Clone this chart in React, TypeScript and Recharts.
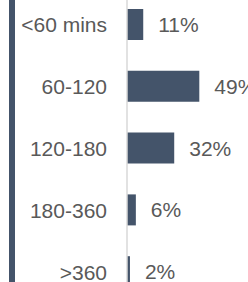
import React from "react";
import { BarChart, Bar, XAxis, YAxis, LabelList } from "recharts";

const categories = ["<60 mins", "60-120", "120-180", "180-360", ">360"];
const shares = [11, 49, 32, 6, 2];

const data = categories.map((name, i) => ({ name, value: shares[i] }));

const FONT = "'Liberation Sans', Arial, sans-serif";
const TEXT = "#595959";
const BAR = "#44546a";

export default function App() {
  return (
    <div
      style={{
        position: "absolute",
        left: 0,
        top: 0,
        width: 248,
        height: 282,
        overflow: "hidden",
        background: "#fff",
      }}
    >
      <div
        style={{
          position: "absolute",
          left: 9,
          top: 0,
          width: 6,
          height: 282,
          background: BAR,
        }}
      />
      <div style={{ position: "absolute", left: 0, top: -6 }}>
        <BarChart
          width={248}
          height={309}
          data={data}
          layout="vertical"
          margin={{ top: 0, right: 0, bottom: 0, left: 0 }}
        >
          <XAxis type="number" hide domain={[0, 82]} />
          <YAxis
            type="category"
            dataKey="name"
            width={127}
            tickLine={false}
            tickSize={0}
            tickMargin={20}
            axisLine={{ stroke: "#d9d9d9", strokeWidth: 1.5 }}
            tick={{ fill: TEXT, fontSize: 21, fontFamily: FONT }}
            interval={0}
          />
          <Bar dataKey="value" fill={BAR} barSize={31} isAnimationActive={false}>
            <LabelList
              dataKey="value"
              position="right"
              offset={15}
              formatter={(v: number) => `${v}%`}
              style={{ fill: TEXT, fontSize: 21, fontFamily: FONT }}
            />
          </Bar>
        </BarChart>
      </div>
    </div>
  );
}
